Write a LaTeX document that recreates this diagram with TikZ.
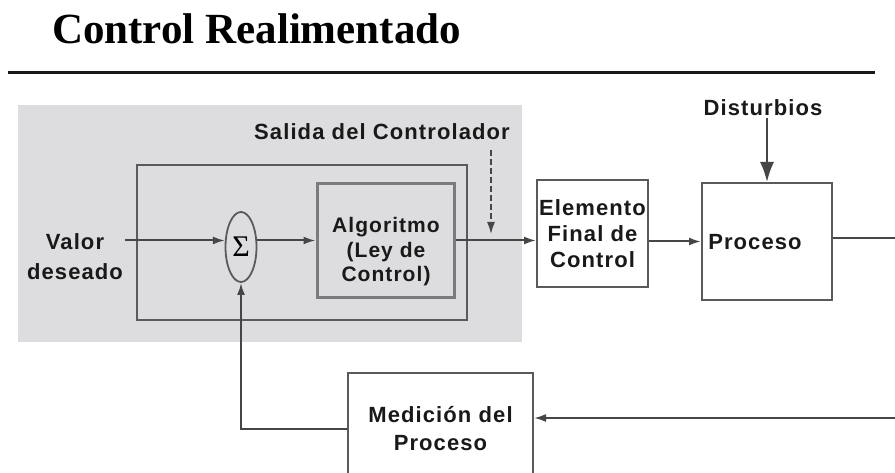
\documentclass[tikz,border=0pt]{standalone}
\usepackage{fontspec}
\setmainfont{Liberation Serif}
\newfontfamily\lblfont[LetterSpace=5]{Liberation Sans}
\usetikzlibrary{arrows.meta,shapes.geometric}
\definecolor{panelgray}{RGB}{221,221,224}
\definecolor{linegray}{RGB}{70,70,70}
\definecolor{boxgray}{RGB}{90,90,90}
\definecolor{txtgray}{RGB}{25,25,25}
\tikzset{
  lbl/.style={font=\lblfont\bfseries\fontsize{22}{26}\selectfont, text=txtgray, align=center, inner sep=2pt},
  blk/.style={draw=boxgray, line width=2pt, fill=white, inner sep=0pt},
  ctrlbox/.style={draw=boxgray, line width=2pt, inner sep=0pt},
  algbox/.style={draw=boxgray!80, line width=3pt, inner sep=0pt},
  sumnode/.style={ellipse, draw=boxgray, line width=1.8pt, minimum width=31pt, minimum height=70pt, inner sep=0pt},
  conn/.style={draw=linegray, line width=2pt},
  arr/.style={conn, -{Latex[length=12pt,width=8pt]}},
  distarr/.style={conn, -{Latex[length=20pt,width=14pt]}},
  salarr/.style={draw=linegray, line width=1.5pt, dash pattern=on 6pt off 3pt, -{Latex[length=12pt,width=8pt]}},
}
\begin{document}
\begin{tikzpicture}[x=1pt,y=-1pt]
\useasboundingbox (0,0) rectangle (895,473);
\fill[white] (0,0) rectangle (895,473);
\node[anchor=base west, font=\bfseries\fontsize{43}{43}\selectfont, inner sep=0pt] (title) at (52,44) {Control Realimentado};
\draw[line width=3pt, color=txtgray] (8,73) -- (875,73);
\fill[panelgray] (18,105) rectangle (522,342);
\node[ctrlbox, minimum width=330pt, minimum height=155pt] (ctrl) at (302,242.5) {};
\node[algbox, minimum width=137pt, minimum height=114pt] (alg) at (385.5,241) {};
\node[lbl, font=\lblfont\bfseries\fontsize{21}{24.5}\selectfont] (algtxt) at (386,252) {Algoritmo\\(Ley de\\Control)};
\node[sumnode] (sig) at (241,247) {\fontsize{30}{30}\selectfont Σ};
\node[lbl, font=\lblfont\bfseries\fontsize{22}{30}\selectfont] (valor) at (75,257) {Valor\\deseado};
\node[lbl] (sal) at (382,132) {Salida del Controlador};
\node[lbl, blk, minimum width=111pt, minimum height=107pt] (efc) at (592.5,233.5) {Elemento\\Final de\\Control};
\node[blk, minimum width=130pt, minimum height=117pt] (proc) at (767,241.5) {};
\node[lbl] (proctxt) at (755,242) {Proceso};
\node[lbl] (dist) at (763,108) {Disturbios};
\node[lbl, blk, font=\lblfont\bfseries\fontsize{22}{28}\selectfont, minimum width=185pt, minimum height=112pt] (med) at (440.5,429) {Medición del\\Proceso};
\coordinate (saltop) at (491,150);
\coordinate (saltip) at (491,234);
\coordinate (rtop) at (897,238);
\coordinate (rbot) at (897,418);
\draw[salarr] (saltop) -- (saltip);
\draw[arr] (valor.east |- sig.158) -- (sig.158);
\draw[arr] (sig.22) -- (sig.22 -| alg.west);
\draw[arr] (alg.east |- sig.22) -- (efc.west |- sig.22);
\draw[arr] (efc.east |- proc.west) -- (proc.west);
\draw[distarr] (dist.south -| proc.north) -- (proc.north);
\draw[conn] (proc.east |- rtop) -- (rtop) -- (rbot);
\draw[arr] (rbot) -- (rbot -| med.east);
\draw[arr] (med.west) -| (sig.south);
\end{tikzpicture}
\end{document}
